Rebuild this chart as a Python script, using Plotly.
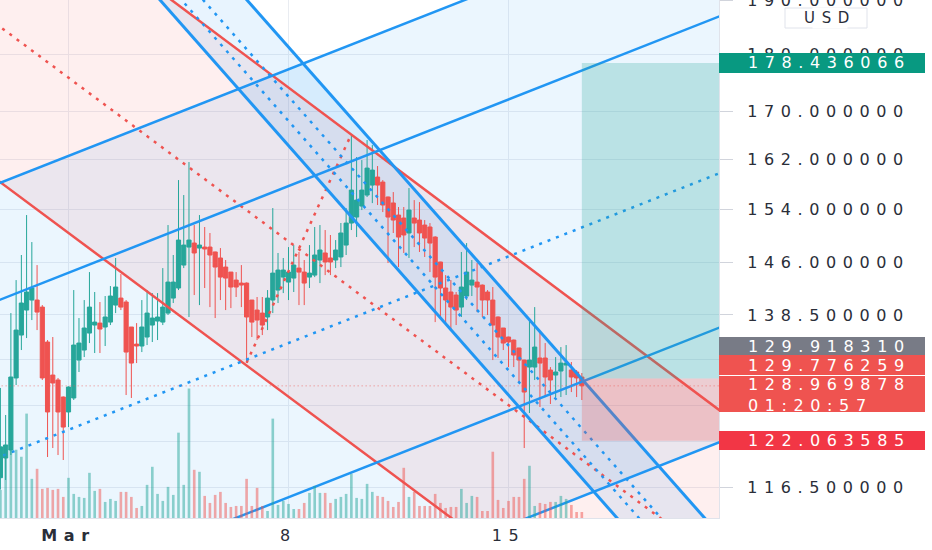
import numpy as np
import pandas as pd
import plotly.graph_objects as go

# 4h candles, first bar 2021-02-26 20:00
first_bar = "2021-02-26 20:00"
opens = [
    117.6, 119.95, 120.92, 130.0, 135.73, 139.18, 140.59, 140.59, 139.60, 134.78,
    130.38, 129.73, 127.53, 125.63, 127.41, 132.36, 133.70, 136.0, 137.10, 137.37,
    136.83, 137.51, 139.88, 140.87, 140.31, 136.83, 134.50, 134.24, 135.46, 137.10,
    137.65, 137.51, 138.76, 140.87, 142.30, 145.62, 148.28, 148.88, 148.13, 148.28,
    148.28, 147.55, 146.66, 145.33, 144.60, 143.44, 143.01, 143.01, 140.59, 139.18,
    138.76, 138.21, 140.59, 142.01, 143.87, 143.15, 143.73, 145.18, 144.60, 143.87,
    144.16, 146.36, 147.40, 146.66, 146.36, 146.81, 148.58, 151.90, 152.82, 154.52,
    156.24, 157.81, 159.09, 158.29, 155.93, 155.0, 153.13, 152.67, 150.39, 152.67,
    152.36, 151.60, 151.30, 149.78, 146.07, 142.30, 141.73, 141.30, 139.60, 141.16,
    142.72, 143.15, 142.72, 141.73, 140.59, 138.21, 136.69, 135.46, 135.05, 133.97,
    132.36, 131.43, 131.43, 132.63, 132.63, 131.04, 130.38, 130.91, 131.70, 131.04,
    130.78, 130.12,
]
highs = [
    128.7, 125.25, 138.76, 143.44, 147.10, 153.13, 149.03, 145.62, 139.88, 135.05,
    135.46, 130.0, 127.6, 128.9, 142.01, 138.07, 140.59, 144.60, 141.73, 140.31,
    141.16, 142.58, 146.66, 144.31, 140.59, 136.83, 137.37, 140.59, 142.01, 141.58,
    141.58, 145.18, 151.60, 147.10, 158.61, 156.24, 161.51, 151.60, 153.13, 151.30,
    150.39, 147.6, 148.13, 146.36, 144.6, 144.60, 145.62, 143.1, 140.6, 141.02,
    141.02, 142.01, 154.21, 147.40, 146.66, 148.28, 148.58, 147.55, 146.36, 148.58,
    151.30, 151.60, 150.84, 150.09, 149.33, 151.91, 154.21, 166.12, 162.32, 161.83,
    165.12, 164.29, 160.86, 158.61, 156.0, 156.71, 154.37, 154.37, 157.34, 155.45,
    155.14, 152.36, 151.90, 149.9, 146.1, 144.16, 143.44, 141.73, 147.55, 148.88,
    146.36, 145.92, 142.8, 142.01, 142.44, 138.3, 136.7, 135.5, 135.1, 134.0,
    132.4, 137.79, 139.60, 136.0, 134.64, 131.43, 132.76, 134.10, 134.37, 132.10,
    131.04, 130.65,
]
lows = [
    116.2, 117.33, 120.31, 129.08, 133.70, 135.32, 137.79, 136.41, 129.73, 120.07,
    121.16, 120.31, 119.71, 123.74, 127.15, 130.78, 132.76, 134.64, 133.30, 133.30,
    134.24, 137.10, 138.76, 139.18, 127.79, 127.41, 131.96, 133.43, 134.37, 134.78,
    135.05, 137.10, 138.49, 140.17, 142.01, 145.18, 138.21, 141.30, 139.88, 142.30,
    139.60, 138.07, 140.59, 139.18, 139.46, 141.02, 139.60, 132.0, 135.46, 135.05,
    135.73, 136.41, 138.76, 140.17, 141.58, 140.59, 141.73, 139.88, 139.88, 142.30,
    143.87, 143.01, 144.16, 144.16, 145.18, 145.33, 147.10, 150.84, 149.78, 153.90,
    155.93, 154.98, 154.68, 153.59, 145.92, 150.39, 145.33, 147.40, 146.66, 148.28,
    147.55, 146.81, 144.60, 137.51, 138.07, 137.10, 136.41, 137.10, 138.21, 140.59,
    141.16, 138.90, 138.21, 138.49, 132.36, 132.63, 133.70, 131.43, 131.43, 129.47,
    121.16, 125.50, 129.73, 126.26, 127.53, 126.64, 127.53, 127.53, 127.79, 128.17,
    127.53, 127.15,
]
closes = [
    121.3, 121.53, 130.12, 136.41, 140.17, 141.73, 142.30, 138.90, 130.0, 125.63,
    129.34, 125.63, 123.74, 128.82, 134.37, 134.64, 136.69, 139.60, 137.51, 136.55,
    138.21, 141.16, 142.44, 139.60, 133.43, 131.96, 134.24, 136.83, 138.76, 138.07,
    138.21, 139.60, 143.15, 143.15, 149.33, 148.58, 149.33, 147.40, 148.58, 147.99,
    147.10, 145.33, 143.87, 143.73, 142.44, 142.44, 142.72, 138.21, 137.51, 137.79,
    137.10, 140.87, 144.45, 144.89, 144.89, 144.60, 145.62, 144.60, 143.01, 144.45,
    147.10, 147.84, 146.07, 146.07, 147.84, 150.39, 151.90, 157.02, 155.45, 157.02,
    160.53, 160.21, 157.81, 154.68, 152.82, 152.36, 149.78, 150.09, 153.90, 151.90,
    150.39, 149.63, 148.88, 143.87, 142.30, 140.59, 139.60, 139.18, 142.44, 144.60,
    143.44, 142.44, 140.59, 140.59, 137.10, 135.46, 134.64, 134.78, 133.03, 132.36,
    128.17, 132.36, 134.10, 131.96, 130.12, 129.73, 130.78, 131.96, 131.96, 130.12,
    130.0, 128.969878,
]
volume = [
    28, 68, 68, 68, 61, 104, 39, 49, 29, 30, 28, 29, 21, 40, 24, 21, 20, 45, 27, 29,
    16, 19, 17, 26, 26, 21, 10, 12, 33, 51, 24, 17, 31, 23, 85, 33, 129, 48, 46, 22,
    15, 23, 26, 15, 11, 12, 12, 39, 12, 30, 12, 7, 99, 13, 17, 14, 9, 9, 15, 25,
    32, 25, 25, 15, 19, 21, 24, 44, 20, 19, 34, 26, 22, 21, 17, 11, 16, 50, 21, 26,
    12, 12, 12, 24, 15, 10, 11, 11, 29, 15, 22, 21, 7, 7, 66, 18, 10, 17, 21, 21,
    39, 52, 12, 15, 14, 16, 16, 22, 19, 13, 6, 6,
]

price_ticks = [116.5, 122, 126.5, 132.5, 138.5, 146, 154, 162, 170, 180, 190]
date_ticks = ["2021-03-01", "2021-03-08", "2021-03-15"]
date_tick_text = ["<b>Mar</b>", "8", "15"]

# drawings: each line is two anchor points (time, price)
red_fork_upper = [("2021-03-01", 205.4), ("2021-03-15", 147.5)]
red_fork_median = [("2021-03-01", 175.8), ("2021-03-15", 126.5)]
red_fork_lower = [("2021-03-01", 150.4), ("2021-03-15", 108.2)]
red_fork_bc = [("2021-03-06 16:00", 132.0), ("2021-03-10 00:00", 166.1)]

blue_fork_top = [("2021-03-01", 162.5), ("2021-03-15", 193.4)]
blue_fork_upper = [("2021-03-01", 144.5), ("2021-03-15", 172.0)]
blue_fork_median = [("2021-03-01", 123.4), ("2021-03-15", 146.9)]
blue_fork_lower = [("2021-03-01", 105.7), ("2021-03-15", 125.8)]
blue_fork_bottom = [("2021-03-01", 94.15), ("2021-03-15", 112.1)]

channel_low = [("2021-03-08", 164.2), ("2021-03-16", 123.3)]
channel_mid = [("2021-03-08", 172.5), ("2021-03-16", 129.6)]
channel_inner = [("2021-03-08", 168.3), ("2021-03-16", 126.4)]
channel_high = [("2021-03-08", 181.3), ("2021-03-16", 136.2)]

# long position tool + price scale labels
position_start = "2021-03-17 08:00"
position_end = "2021-03-26"
entry_price = 129.918310
target_price = 178.436066
stop_price = 122.063585
last_price = 128.969878
alert_price = 129.776259
bar_countdown = "01:20:57"

UP = "#26A69A"
DOWN = "#EF5350"
BLUE = "#2196F3"
RED = "#EF5350"
TEXT = "#2A2E39"
FONT = "DejaVu Sans"

times = pd.date_range(first_bar, periods=len(closes), freq="4h")
T0, T1 = pd.Timestamp("2021-02-20"), pd.Timestamp("2021-03-28")


def extend(line, t0=T0, t1=T1):
    (ta, pa), (tb, pb) = [(pd.Timestamp(t), p) for t, p in line]
    k = np.log(pb / pa) / (tb - ta).total_seconds()
    xs = [t0, t1]
    ys = [pa * np.exp(k * (t - ta).total_seconds()) for t in xs]
    return xs, ys


def band_path(l1, l2):
    x1, y1 = extend(l1)
    x2, y2 = extend(l2)
    pts = list(zip(x1, y1)) + list(zip(x2[::-1], y2[::-1]))
    return "M " + " L ".join(f"{t:%Y-%m-%d_%H:%M:%S},{p:.4f}" for t, p in pts) + " Z"


fig = go.Figure()

# volume (own hidden axis)
vol_colors = ["rgba(38,166,154,0.5)" if c >= o else "rgba(239,83,80,0.5)"
              for o, c in zip(opens, closes)]
fig.add_trace(go.Bar(x=times, y=volume, yaxis="y2", marker_color=vol_colors,
                     marker_line_width=0, width=4 * 3600 * 1000 * 0.5, hoverinfo="skip"))

fig.add_trace(go.Candlestick(
    x=times, open=opens, high=highs, low=lows, close=closes,
    increasing=dict(line=dict(color=UP, width=1), fillcolor=UP),
    decreasing=dict(line=dict(color=DOWN, width=1), fillcolor=DOWN),
    hoverinfo="skip"))


def add_line(line, color, dash="solid", width=2.5, full=True):
    if full:
        xs, ys = extend(line)
    else:
        xs = [pd.Timestamp(t) for t, _ in line]
        ys = [p for _, p in line]
    fig.add_trace(go.Scatter(x=xs, y=ys, mode="lines", hoverinfo="skip",
                             line=dict(color=color, width=width, dash=dash)))


DOTS = "3px,6px"
add_line(red_fork_upper, RED)
add_line(red_fork_lower, RED)
add_line(red_fork_median, RED, DOTS)
add_line(red_fork_bc, RED, DOTS, full=False)
for ln in (blue_fork_top, blue_fork_upper, blue_fork_lower, blue_fork_bottom):
    add_line(ln, BLUE)
add_line(blue_fork_median, BLUE, DOTS)
add_line(channel_low, BLUE, width=3)
add_line(channel_high, BLUE, width=3)
add_line(channel_mid, BLUE, DOTS)
add_line(channel_inner, BLUE, DOTS)

# current price line
fig.add_trace(go.Scatter(x=[T0, T1], y=[last_price, last_price], mode="lines", hoverinfo="skip",
                         line=dict(color="rgba(239,83,80,0.7)", width=1, dash="1px,3px")))

shapes = [
    dict(type="path", path=band_path(blue_fork_top, blue_fork_bottom), xref="x", yref="y",
         fillcolor="rgba(33,150,243,0.09)", line_width=0, layer="between"),
    dict(type="path", path=band_path(red_fork_upper, red_fork_lower), xref="x", yref="y",
         fillcolor="rgba(239,83,80,0.09)", line_width=0, layer="between"),
    dict(type="path", path=band_path(channel_low, channel_high), xref="x", yref="y",
         fillcolor="rgba(33,150,243,0.10)", line_width=0, layer="between"),
    dict(type="rect", xref="x", yref="y", x0=position_start, x1=position_end,
         y0=entry_price, y1=target_price, fillcolor="rgba(38,166,154,0.25)",
         line_width=0, layer="above"),
    dict(type="rect", xref="x", yref="y", x0=position_start, x1=position_end,
         y0=stop_price, y1=entry_price, fillcolor="rgba(239,83,80,0.25)",
         line_width=0, layer="above"),
]

# price-scale labels: (price, text, colour, box centre shift px, box height px, text shift px)
labels = [
    (target_price, f"{target_price:.6f}", "#089981", 0, 20, 0),
    (entry_price, f"{entry_price:.6f}", "#787B86", 32, 19, 32),
    (alert_price, f"{alert_price:.6f}", "#EF5350", 14.5, 20, 14.5),
    (last_price, f"{last_price:.6f}<br>{bar_countdown}", "#EF5350", -8, 36, -9),
    (stop_price, f"{stop_price:.6f}", "#F23645", 0, 19, 0),
]
annotations = []
for price, txt, col, bshift, bh, tshift in labels:
    annotations.append(dict(xref="paper", x=1, xanchor="left", yref="y", y=np.log10(price),
                            yshift=bshift, yanchor="middle", text=" ", showarrow=False,
                            width=206, height=bh, bgcolor=col, borderpad=0, borderwidth=0,
                            font=dict(family=FONT, size=6)))
    annotations.append(dict(xref="paper", x=1, xanchor="left", xshift=27,
                            yref="y", y=np.log10(price), yshift=tshift, yanchor="middle",
                            text=txt, showarrow=False, align="left",
                            font=dict(family=FONT, size=16, color="white")))

# currency button
shapes.append(dict(type="rect", xref="paper", yref="paper", x0=785 / 719, x1=867 / 719,
                   y0=1 - 28 / 518, y1=1 - 8 / 518, fillcolor="white",
                   line=dict(color="#E0E3EB", width=1), layer="above"))
annotations.append(dict(xref="paper", yref="paper", x=830 / 719, y=1 - 18 / 518,
                        text="USD", showarrow=False, xanchor="center", yanchor="middle",
                        bgcolor="white",
                        font=dict(family=FONT, size=15, color=TEXT)))

fig.update_layout(
    width=932, height=550,
    margin=dict(l=0, r=213, t=0, b=32, autoexpand=False),
    paper_bgcolor="white", plot_bgcolor="white",
    showlegend=False, hovermode=False,
    boxgap=0.12, boxgroupgap=0.1,
    font=dict(family=FONT, size=16, color=TEXT),
    shapes=shapes, annotations=annotations,
    xaxis=dict(type="date", range=["2021-02-26 19:41:30", "2021-03-21 16:44:00"],
               rangeslider=dict(visible=False), tickvals=date_ticks, ticktext=date_tick_text,
               showgrid=True, gridcolor="#E9ECF1", showline=True, linecolor="#E0E3EB",
               ticks="", ticklabelstandoff=3, tickfont=dict(size=16, color=TEXT)),
    yaxis=dict(type="log", side="right", range=[np.log10(112.93), np.log10(190.08)],
               tickvals=price_ticks, ticktext=[f"{v:.6f}" for v in price_ticks],
               showgrid=True, gridcolor="#E9ECF1", zeroline=False,
               ticks="outside", ticklen=13, tickcolor="#D1D4DC",
               showline=True, linecolor="#E0E3EB", ticklabelstandoff=11,
               ticklabeloverflow="allow", tickfont=dict(size=16, color=TEXT)),
    yaxis2=dict(overlaying="y", range=[0, max(volume) * 4.0], visible=False),
)

post_js = """
document.body.style.margin = '0';
var gd = document.querySelector('.plotly-graph-div');
gd.querySelectorAll('.ytick text, .xtick text, .annotation-text').forEach(function(el){
  el.style.letterSpacing = '6.6px';
});
"""

fig.write_html("out.html", post_script=post_js, config={"displayModeBar": False})
